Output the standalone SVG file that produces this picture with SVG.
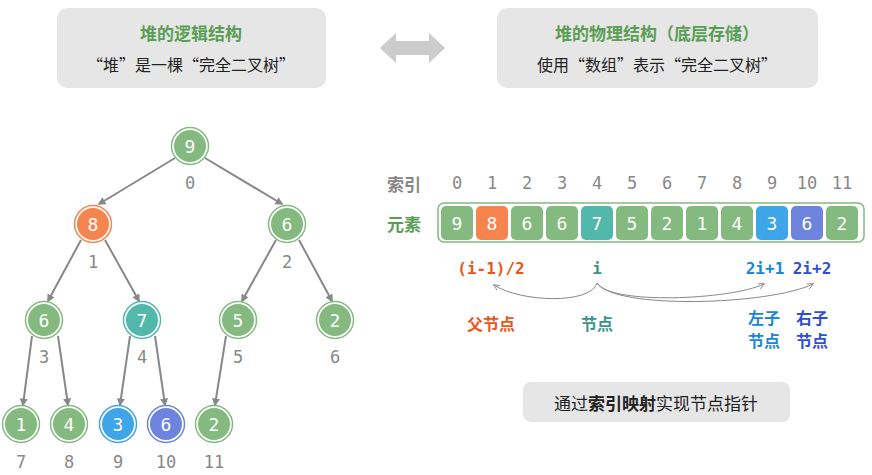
<svg xmlns="http://www.w3.org/2000/svg" width="872" height="475" viewBox="0 0 872 475">
<style>
.n circle.o{fill:none;stroke-width:1.5}
.g{fill:#84b980}.go{stroke:#84b980}
.r{fill:#f6844f}.ro{stroke:#f6844f}
.t{fill:#52b8ac}.to{stroke:#52b8ac}
.b{fill:#3fa5e9}.bo{stroke:#3fa5e9}
.p{fill:#6d84df}.po{stroke:#6d84df}
.v{font-family:"DejaVu Sans Mono",monospace;font-size:18px;fill:#fff;text-anchor:middle;dominant-baseline:central}
.ix{font-family:"DejaVu Sans Mono",monospace;font-size:17px;fill:#888;text-anchor:middle;dominant-baseline:central}
.e{stroke:#888;stroke-width:2;fill:none;marker-end:url(#a)}
.c{stroke:#888;stroke-width:1;fill:none;marker-end:url(#s)}
.cj{font-family:"Noto Sans CJK SC",sans-serif;font-weight:bold;font-size:16px;text-anchor:middle;dominant-baseline:central}
.fm{font-family:"DejaVu Sans Mono",monospace;font-weight:bold;font-size:16px;text-anchor:middle;dominant-baseline:central}
</style>
<defs>
<marker id="a" viewBox="0 0 10 10" refX="8" refY="5" markerWidth="4" markerHeight="4" orient="auto"><path d="M0,0L10,5L0,10z" fill="#888"/></marker>
<marker id="s" viewBox="0 0 10 10" refX="8" refY="5" markerWidth="7" markerHeight="7" orient="auto"><path d="M0,1L9,5L0,9" fill="none" stroke="#888" stroke-width="1.2"/></marker>
</defs>
<rect width="872" height="475" fill="#fff"/>
<g id="box-left"><rect x="57" y="8" width="269" height="80" rx="10" fill="#e6e6e6"/>
<text x="191" y="32" class="cj" style="fill:#5a9e55;font-size:17px">堆的逻辑结构</text>
<text x="191" y="64" class="cj" style="fill:#222;font-weight:normal">“堆”是一棵“完全二叉树”</text></g>
<g id="box-right"><rect x="497" y="8" width="321" height="80" rx="10" fill="#e6e6e6"/>
<text x="657" y="32" class="cj" style="fill:#5a9e55;font-size:17px">堆的物理结构（底层存储）</text>
<text x="657" y="64" class="cj" style="fill:#222;font-weight:normal">使用“数组”表示“完全二叉树”</text></g>
<path id="dbl-arrow" d="M380,48L396,33V41H429V33L445,48L429,63V55H396V63z" fill="#ccc"/>
<g id="edges">
<line class="e" x1="175" y1="158" x2="99" y2="204"/>
<line class="e" x1="205" y1="158" x2="282" y2="204"/>
<line class="e" x1="81" y1="240" x2="48" y2="301"/>
<line class="e" x1="105" y1="240" x2="139" y2="301"/>
<line class="e" x1="276" y1="240" x2="242" y2="301"/>
<line class="e" x1="299" y1="240" x2="332" y2="301"/>
<line class="e" x1="32" y1="336" x2="23" y2="405"/>
<line class="e" x1="58" y1="336" x2="68" y2="405"/>
<line class="e" x1="130" y1="336" x2="120" y2="405"/>
<line class="e" x1="155" y1="336" x2="165" y2="405"/>
<line class="e" x1="226" y1="336" x2="215" y2="405"/>
</g>
<g id="tree">
<g class="n" id="n0"><circle cx="190" cy="146" r="16" class="g"/><circle class="o go" cx="190" cy="146" r="18.5"/><text class="v" x="190" y="146">9</text><text class="ix" x="190" y="183">0</text></g>
<g class="n" id="n1"><circle cx="93" cy="224" r="16" class="r"/><circle class="o ro" cx="93" cy="224" r="18.5"/><text class="v" x="93" y="224">8</text><text class="ix" x="93" y="262">1</text></g>
<g class="n" id="n2"><circle cx="287" cy="224" r="16" class="g"/><circle class="o go" cx="287" cy="224" r="18.5"/><text class="v" x="287" y="224">6</text><text class="ix" x="287" y="262">2</text></g>
<g class="n" id="n3"><circle cx="44" cy="320" r="16" class="g"/><circle class="o go" cx="44" cy="320" r="18.5"/><text class="v" x="44" y="320">6</text><text class="ix" x="44" y="357">3</text></g>
<g class="n" id="n4"><circle cx="142" cy="320" r="16" class="t"/><circle class="o to" cx="142" cy="320" r="18.5"/><text class="v" x="142" y="320">7</text><text class="ix" x="142" y="357">4</text></g>
<g class="n" id="n5"><circle cx="238" cy="320" r="16" class="g"/><circle class="o go" cx="238" cy="320" r="18.5"/><text class="v" x="238" y="320">5</text><text class="ix" x="238" y="357">5</text></g>
<g class="n" id="n6"><circle cx="335" cy="320" r="16" class="g"/><circle class="o go" cx="335" cy="320" r="18.5"/><text class="v" x="335" y="320">2</text><text class="ix" x="335" y="357">6</text></g>
<g class="n" id="n7"><circle cx="21" cy="424" r="16" class="g"/><circle class="o go" cx="21" cy="424" r="18.5"/><text class="v" x="21" y="424">1</text><text class="ix" x="21" y="462">7</text></g>
<g class="n" id="n8"><circle cx="69" cy="424" r="16" class="g"/><circle class="o go" cx="69" cy="424" r="18.5"/><text class="v" x="69" y="424">4</text><text class="ix" x="69" y="462">8</text></g>
<g class="n" id="n9"><circle cx="118" cy="424" r="16" class="b"/><circle class="o bo" cx="118" cy="424" r="18.5"/><text class="v" x="118" y="424">3</text><text class="ix" x="118" y="462">9</text></g>
<g class="n" id="n10"><circle cx="166" cy="424" r="16" class="p"/><circle class="o po" cx="166" cy="424" r="18.5"/><text class="v" x="166" y="424">6</text><text class="ix" x="166" y="462">10</text></g>
<g class="n" id="n11"><circle cx="214" cy="424" r="16" class="g"/><circle class="o go" cx="214" cy="424" r="18.5"/><text class="v" x="214" y="424">2</text><text class="ix" x="214" y="462">11</text></g>
</g>
<g id="array">
<text x="404" y="183" class="cj" style="fill:#888;font-size:17px">索引</text>
<text x="404" y="223" class="cj" style="fill:#5a9e55;font-size:17px">元素</text>
<rect x="438" y="203" width="426" height="39" rx="6" fill="#fff" stroke="#84b980" stroke-width="1.5"/>
<g class="ix"><text x="457" y="183">0</text><text x="492" y="183">1</text><text x="527" y="183">2</text><text x="562" y="183">3</text><text x="597" y="183">4</text><text x="632" y="183">5</text><text x="667" y="183">6</text><text x="702" y="183">7</text><text x="737" y="183">8</text><text x="772" y="183">9</text><text x="807" y="183">10</text><text x="842" y="183">11</text></g>
<rect class="g" x="441" y="206" width="32" height="34" rx="5"/><text class="v" x="457" y="223">9</text>
<rect class="r" x="476" y="206" width="32" height="34" rx="5"/><text class="v" x="492" y="223">8</text>
<rect class="g" x="511" y="206" width="32" height="34" rx="5"/><text class="v" x="527" y="223">6</text>
<rect class="g" x="546" y="206" width="32" height="34" rx="5"/><text class="v" x="562" y="223">6</text>
<rect class="t" x="581" y="206" width="32" height="34" rx="5"/><text class="v" x="597" y="223">7</text>
<rect class="g" x="616" y="206" width="32" height="34" rx="5"/><text class="v" x="632" y="223">5</text>
<rect class="g" x="651" y="206" width="32" height="34" rx="5"/><text class="v" x="667" y="223">2</text>
<rect class="g" x="686" y="206" width="32" height="34" rx="5"/><text class="v" x="702" y="223">1</text>
<rect class="g" x="721" y="206" width="32" height="34" rx="5"/><text class="v" x="737" y="223">4</text>
<rect class="b" x="756" y="206" width="32" height="34" rx="5"/><text class="v" x="772" y="223">3</text>
<rect class="p" x="791" y="206" width="32" height="34" rx="5"/><text class="v" x="807" y="223">6</text>
<rect class="g" x="826" y="206" width="32" height="34" rx="5"/><text class="v" x="842" y="223">2</text>
</g>
<g id="connectors">
<path class="c" d="M597,283C590,305 520,302 494,285"/>
<path class="c" d="M597,283C610,305 730,300 764,284"/>
<path class="c" d="M597,283C615,310 770,305 813,284"/>
</g>
<g id="labels">
<text class="fm" x="491" y="268" fill="#e9561b">(i-1)/2</text>
<text class="fm" x="597" y="268" fill="#3a9488">i</text>
<text class="fm" x="765" y="268" fill="#1a86d6">2i+1</text>
<text class="fm" x="812" y="268" fill="#2f4fcf">2i+2</text>
<text class="cj" x="491" y="323" fill="#e9561b">父节点</text>
<text class="cj" x="597" y="323" fill="#3a9488">节点</text>
<text class="cj" x="764" y="317" fill="#1a86d6">左子</text>
<text class="cj" x="764" y="340" fill="#1a86d6">节点</text>
<text class="cj" x="812" y="317" fill="#2f4fcf">右子</text>
<text class="cj" x="812" y="340" fill="#2f4fcf">节点</text>
</g>
<g id="note"><rect x="523" y="382" width="267" height="40" rx="8" fill="#e6e6e6"/>
<text x="656" y="402" class="cj" style="fill:#222;font-weight:normal;font-size:17px">通过<tspan font-weight="bold">索引映射</tspan>实现节点指针</text></g>
</svg>
